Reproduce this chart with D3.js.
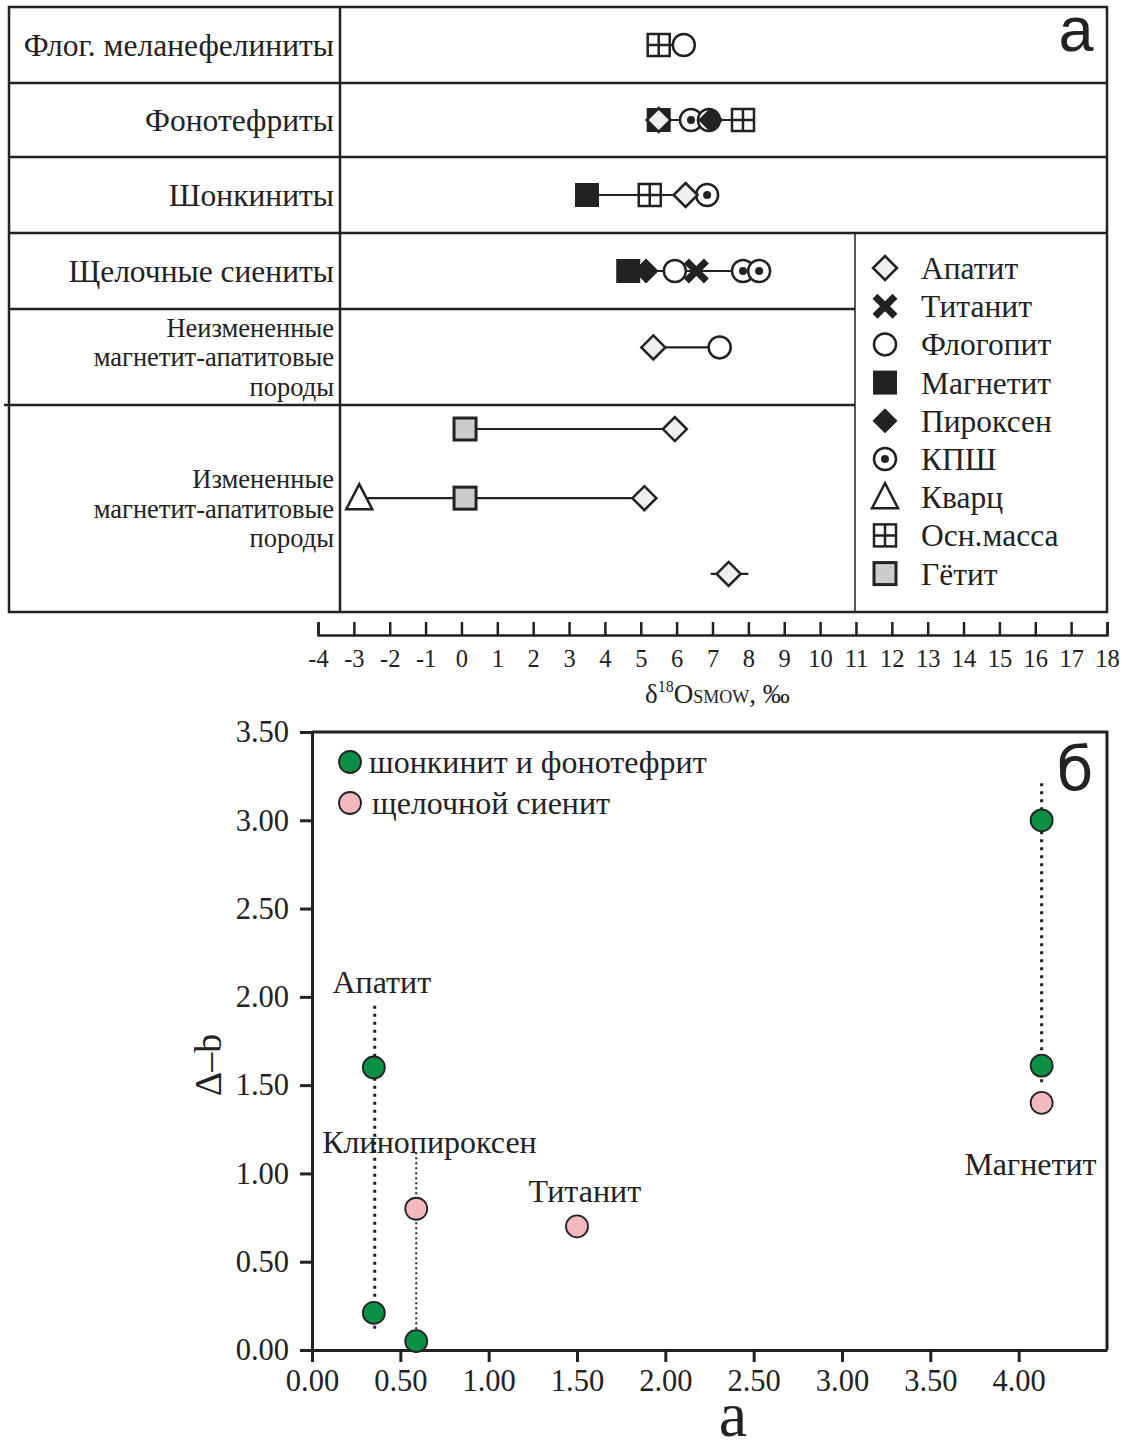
<!DOCTYPE html>
<html>
<head>
<meta charset="utf-8">
<script src="https://cdn.jsdelivr.net/npm/d3@7/dist/d3.min.js"></script>
<style>
  html, body { margin: 0; padding: 0; background: #fff; }
  svg { display: block; }
</style>
</head>
<body>
<svg id="chart" width="1127" height="1441"></svg>
<script>
// ---- данные (а): δ18O по минералам ----
const rocks = [
  ["Флог. меланефелиниты"],
  ["Фонотефриты"],
  ["Шонкиниты"],
  ["Щелочные сиениты"],
  ["Неизмененные", "магнетит-апатитовые", "породы"],
  ["Измененные", "магнетит-апатитовые", "породы"]
];
const minerals = ["Апатит", "Титанит", "Флогопит", "Магнетит", "Пироксен", "КПШ", "Кварц", "Осн.масса", "Гётит"];
const deltaTicks = d3.range(-4, 19);

const melanephelinite = [["Осн.масса", 5.5], ["Флогопит", 6.2]];
const phonotephrite = [["Магнетит", 5.5], ["Апатит", 5.5], ["КПШ", 6.4], ["Флогопит", 6.9], ["Пироксен", 6.95], ["Осн.масса", 7.85]];
const shonkinite = [["Магнетит", 3.5], ["Осн.масса", 5.25], ["КПШ", 6.85], ["Апатит", 6.25]];
const syenite = [["Магнетит", 4.65], ["Пироксен", 5.15], ["Флогопит", 5.95], ["Титанит", 6.55], ["КПШ", 7.85], ["КПШ", 8.3]];
const unalteredOre = [["Апатит", 5.35], ["Флогопит", 7.2]];
const alteredOre1 = [["Гётит", 0.1], ["Апатит", 5.95]];
const alteredOre2 = [["Кварц", -2.85], ["Гётит", 0.1], ["Апатит", 5.1]];
const alteredOre3 = [["Апатит", 7.45]];
const alteredOre3Range = [6.95, 8.0];

// ---- данные (б): Δ–b против a ----
const groups = ["шонкинит и фонотефрит", "щелочной сиенит"];
const shonkinitePts = [[0.35, 1.60], [0.35, 0.21], [0.59, 0.05], [4.13, 3.00], [4.13, 1.61]];
const syenitePts = [[0.59, 0.80], [1.50, 0.70], [4.13, 1.40]];
const mineralLabels = [["Апатит", 0.395, 2.02], ["Клинопироксен", 0.665, 1.115], ["Титанит", 1.544, 0.84], ["Магнетит", 4.067, 0.99]];
const tieLines = [[0.355, 1.95, 0.10], [0.59, 1.12, 0.05], [4.13, 3.21, 1.50]];
const aTicks = d3.range(0, 4.01, 0.5);
const bTicks = d3.range(0, 3.51, 0.5);

// ---- оформление ----
const ink = "#222";
const serif = "'Liberation Serif', 'Times New Roman', serif";
const sans = "'Liberation Sans', Arial, sans-serif";
const green = "#0a8f45";
const pink = "#f4b8bf";

const svg = d3.select("#chart");

function marker(sel, m) {
  if (m === "Апатит") {
    sel.append("path").attr("d", "M0,-12L12,0L0,12L-12,0Z")
      .attr("fill", "#efefef").attr("stroke", ink).attr("stroke-width", 2.5);
  } else if (m === "Пироксен") {
    sel.append("path").attr("d", "M0,-12L12,0L0,12L-12,0Z")
      .attr("fill", ink).attr("stroke", ink).attr("stroke-width", 1);
  } else if (m === "Титанит") {
    sel.append("path").attr("d", "M-10,-10L10,10M10,-10L-10,10")
      .attr("stroke", ink).attr("stroke-width", 7).attr("fill", "none");
  } else if (m === "Флогопит") {
    sel.append("circle").attr("r", 11).attr("fill", "#fff").attr("stroke", ink).attr("stroke-width", 2.5);
  } else if (m === "КПШ") {
    sel.append("circle").attr("r", 11).attr("fill", "#fff").attr("stroke", ink).attr("stroke-width", 2.5);
    sel.append("circle").attr("r", 4).attr("fill", ink);
  } else if (m === "Магнетит") {
    sel.append("rect").attr("x", -12).attr("y", -12).attr("width", 24).attr("height", 24).attr("fill", ink);
  } else if (m === "Кварц") {
    sel.append("path").attr("d", "M0,-14L13,11L-13,11Z")
      .attr("fill", "#fff").attr("stroke", ink).attr("stroke-width", 2.5);
  } else if (m === "Осн.масса") {
    sel.append("rect").attr("x", -11).attr("y", -11).attr("width", 22).attr("height", 22)
      .attr("fill", "#fff").attr("stroke", ink).attr("stroke-width", 2.5);
    sel.append("path").attr("d", "M0,-11V11M-11,0H11").attr("stroke", ink).attr("stroke-width", 2.5);
  } else if (m === "Гётит") {
    sel.append("rect").attr("x", -11).attr("y", -11).attr("width", 22).attr("height", 22)
      .attr("fill", "#ccc").attr("stroke", ink).attr("stroke-width", 3);
  }
}

// ================= панель а =================
const rowEdges = [7, 83, 157, 233, 309, 405, 612];
const left = 9, right = 1107, labelCol = 340, legendX = 855;
const x1 = d3.scaleLinear().domain([-4, 18]).range([318, 1107]);

const panelA = svg.append("g");

// рамка и разделители
panelA.append("rect").attr("x", left).attr("y", rowEdges[0])
  .attr("width", right - left).attr("height", rowEdges[6] - rowEdges[0])
  .attr("fill", "none").attr("stroke", ink).attr("stroke-width", 2.5);
panelA.append("line").attr("x1", labelCol).attr("x2", labelCol)
  .attr("y1", rowEdges[0]).attr("y2", rowEdges[6]).attr("stroke", ink).attr("stroke-width", 2.5);
rowEdges.slice(1, 6).forEach((y, i) => {
  panelA.append("line").attr("x1", i === 4 ? 4 : left).attr("x2", i < 3 ? right : legendX)
    .attr("y1", y).attr("y2", y).attr("stroke", ink).attr("stroke-width", 2.5);
});
panelA.append("line").attr("x1", legendX).attr("x2", legendX)
  .attr("y1", rowEdges[3]).attr("y2", rowEdges[6]).attr("stroke", ink).attr("stroke-width", 1.5);

// подписи пород
rocks.forEach((lines, i) => {
  const cy = (rowEdges[i] + rowEdges[i + 1]) / 2;
  const multi = lines.length > 1;
  const step = 29.5;
  const t = panelA.append("text")
    .attr("text-anchor", "end")
    .attr("font-family", serif)
    .attr("font-size", multi ? 26.5 : 31.5)
    .attr("fill", ink);
  lines.forEach((s, k) => {
    t.append("tspan").attr("x", 334)
      .attr("y", cy + (k - (lines.length - 1) / 2) * step)
      .attr("dy", "0.35em").text(s);
  });
});

// дорожки с измерениями
const lanes = [
  { row: 0, f: 0.5, pts: melanephelinite },
  { row: 1, f: 0.5, pts: phonotephrite },
  { row: 2, f: 0.5, pts: shonkinite },
  { row: 3, f: 0.5, pts: syenite },
  { row: 4, f: 0.4, pts: unalteredOre },
  { row: 5, f: 0.116, pts: alteredOre1 },
  { row: 5, f: 0.45, pts: alteredOre2 },
  { row: 5, f: 0.816, pts: alteredOre3, range: alteredOre3Range }
];

lanes.forEach(l => {
  const y = rowEdges[l.row] + l.f * (rowEdges[l.row + 1] - rowEdges[l.row]);
  const ext = l.range || d3.extent(l.pts, d => d[1]);
  panelA.append("line")
    .attr("x1", x1(ext[0])).attr("x2", x1(ext[1]))
    .attr("y1", y).attr("y2", y)
    .attr("stroke", ink).attr("stroke-width", 2.2);
  l.pts.forEach(d => {
    const g = panelA.append("g").attr("transform", `translate(${x1(d[1])},${y})`);
    marker(g, d[0]);
  });
});

// легенда
minerals.forEach((m, i) => {
  const y = 268 + i * 38.2;
  marker(panelA.append("g").attr("transform", `translate(885,${y})`), m);
  panelA.append("text").attr("x", 921).attr("y", y).attr("dy", "0.35em")
    .attr("font-family", serif).attr("font-size", 31.5).attr("fill", ink).text(m);
});

panelA.append("text").attr("x", 1076).attr("y", 51).attr("text-anchor", "middle")
  .attr("font-family", sans).attr("font-size", 63).attr("fill", ink).text("а");

// ось δ18O
const axis1 = svg.append("g").attr("transform", "translate(0,635)")
  .call(d3.axisBottom(x1).tickValues(deltaTicks).tickFormat(d => String(d))
    .tickSizeInner(-13).tickSizeOuter(-13).tickPadding(15));
axis1.selectAll("path, line").attr("stroke", ink).attr("stroke-width", 2.5);
axis1.selectAll("text").attr("font-family", serif).attr("font-size", 24.5).attr("fill", ink);

const xt = svg.append("text").attr("x", 645).attr("y", 703)
  .attr("font-family", serif).attr("font-size", 27).attr("fill", ink);
xt.append("tspan").text("δ");
xt.append("tspan").attr("font-size", 16).attr("dy", -11).text("18");
xt.append("tspan").attr("dy", 11).text("O");
xt.append("tspan").attr("font-size", 18).text("SMOW");
xt.append("tspan").text(", ‰");

// ================= панель б =================
const xB = d3.scaleLinear().domain([0, 4.5]).range([312, 1107]);
const yB = d3.scaleLinear().domain([0, 3.5]).range([1350, 732]);
const panelB = svg.append("g");

panelB.append("path")
  .attr("d", `M${xB(0)},${yB(3.5)}H${xB(4.5)}V${yB(0)}`)
  .attr("fill", "none").attr("stroke", ink).attr("stroke-width", 3);

const axB = panelB.append("g").attr("transform", `translate(0,${yB(0)})`)
  .call(d3.axisBottom(xB).tickValues(aTicks).tickFormat(d3.format(".2f"))
    .tickSizeInner(12).tickSizeOuter(0).tickPadding(7));
const ayB = panelB.append("g").attr("transform", `translate(${xB(0)},0)`)
  .call(d3.axisLeft(yB).tickValues(bTicks).tickFormat(d3.format(".2f"))
    .tickSizeInner(12).tickSizeOuter(0).tickPadding(11));
[axB, ayB].forEach(a => {
  a.selectAll("path, line").attr("stroke", ink).attr("stroke-width", 3);
  a.selectAll("text").attr("font-family", serif).attr("font-size", 30.5).attr("fill", ink);
});

// пунктирные связи
tieLines.forEach((t, i) => {
  panelB.append("line")
    .attr("x1", xB(t[0])).attr("x2", xB(t[0]))
    .attr("y1", yB(t[1])).attr("y2", yB(t[2]))
    .attr("stroke", ink)
    .attr("stroke-width", i === 1 ? 2 : 3)
    .attr("stroke-dasharray", i === 1 ? "2,3" : "3,5");
});

panelB.selectAll("circle.syen").data(syenitePts).join("circle").attr("class", "syen")
  .attr("cx", d => xB(d[0])).attr("cy", d => yB(d[1])).attr("r", 11)
  .attr("fill", pink).attr("stroke", ink).attr("stroke-width", 1.8);
panelB.selectAll("circle.shonk").data(shonkinitePts).join("circle").attr("class", "shonk")
  .attr("cx", d => xB(d[0])).attr("cy", d => yB(d[1])).attr("r", 11)
  .attr("fill", green).attr("stroke", ink).attr("stroke-width", 1.8);

mineralLabels.forEach(d => {
  panelB.append("text").attr("x", xB(d[1])).attr("y", yB(d[2]))
    .attr("text-anchor", "middle").attr("font-family", serif).attr("font-size", 32)
    .attr("fill", ink).text(d[0]);
});

// легенда б
groups.forEach((g, i) => {
  const y = 762 + i * 41;
  panelB.append("circle").attr("cx", 350).attr("cy", y).attr("r", 11)
    .attr("fill", i === 0 ? green : pink).attr("stroke", ink).attr("stroke-width", 1.8);
  panelB.append("text").attr("x", i === 0 ? 369 : 372).attr("y", y).attr("dy", "0.35em")
    .attr("font-family", serif).attr("font-size", 32).attr("fill", ink).text(g);
});

panelB.append("text").attr("x", 1075).attr("y", 790).attr("text-anchor", "middle")
  .attr("font-family", "'DejaVu Sans', sans-serif").attr("font-size", 60).attr("fill", ink).text("б");

panelB.append("text").attr("x", 733).attr("y", 1436).attr("text-anchor", "middle")
  .attr("font-family", serif).attr("font-size", 64).attr("fill", ink).text("а");

panelB.append("text")
  .attr("transform", "translate(221,1065) rotate(-90)")
  .attr("text-anchor", "middle").attr("font-family", serif).attr("font-size", 38)
  .attr("fill", ink).text("Δ–b");
</script>
</body>
</html>
